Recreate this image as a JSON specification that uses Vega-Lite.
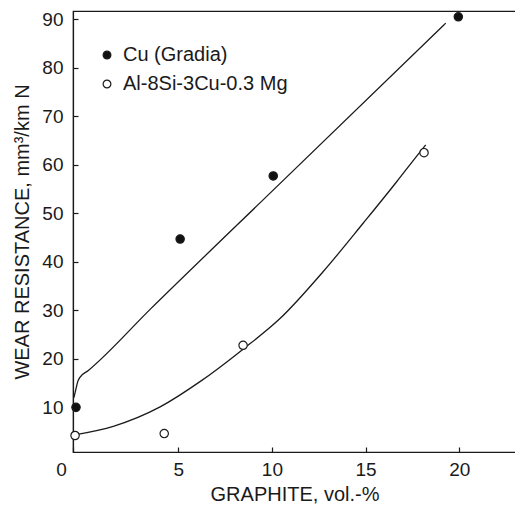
{
  "$schema": "https://vega.github.io/schema/vega-lite/v6.json",
  "autosize": "none",
  "padding": {"left": 73, "top": 11, "right": 0, "bottom": 53},
  "width": 443,
  "height": 441,
  "background": "white",
  "config": {
    "view": {"stroke": "#1a1a1a", "strokeWidth": 1.2},
    "font": "Liberation Sans",
    "axis": {
      "grid": false,
      "domainColor": "#1a1a1a",
      "domainWidth": 1.2,
      "tickColor": "#1a1a1a",
      "tickWidth": 1.2,
      "tickSize": -5,
      "labelFont": "Liberation Sans",
      "labelFontSize": 19,
      "labelColor": "#1a1a1a",
      "titleFont": "Liberation Sans",
      "titleFontSize": 20,
      "titleFontWeight": "normal",
      "titleColor": "#1a1a1a"
    },
    "legend": {
      "labelFont": "Liberation Sans",
      "labelFontSize": 20,
      "labelColor": "#1a1a1a",
      "labelLimit": 0
    }
  },
  "datasets": {
    "points": [
      {"graphite": -0.46, "wear": 10.0, "material": "Cu (Gradia)"},
      {"graphite": 5.1, "wear": 44.7, "material": "Cu (Gradia)"},
      {"graphite": 10.07, "wear": 57.7, "material": "Cu (Gradia)"},
      {"graphite": 19.95, "wear": 90.5, "material": "Cu (Gradia)"},
      {"graphite": -0.51, "wear": 4.2, "material": "Al-8Si-3Cu-0.3 Mg"},
      {"graphite": 4.25, "wear": 4.6, "material": "Al-8Si-3Cu-0.3 Mg"},
      {"graphite": 8.46, "wear": 22.8, "material": "Al-8Si-3Cu-0.3 Mg"},
      {"graphite": 18.12, "wear": 62.5, "material": "Al-8Si-3Cu-0.3 Mg"}
    ],
    "curves": [
      {"graphite": -0.57, "wear": 12.0, "curve": "Cu"},
      {"graphite": -0.45, "wear": 14.0, "curve": "Cu"},
      {"graphite": -0.39, "wear": 15.0, "curve": "Cu"},
      {"graphite": -0.25, "wear": 16.2, "curve": "Cu"},
      {"graphite": 0.2, "wear": 17.6, "curve": "Cu"},
      {"graphite": 3.55, "wear": 30.4, "curve": "Cu"},
      {"graphite": 10.26, "wear": 55.5, "curve": "Cu"},
      {"graphite": 19.28, "wear": 89.2, "curve": "Cu"},
      {"graphite": -0.45, "wear": 4.4, "curve": "Al"},
      {"graphite": 1.53, "wear": 6.1, "curve": "Al"},
      {"graphite": 4.03, "wear": 10.1, "curve": "Al"},
      {"graphite": 6.16, "wear": 15.3, "curve": "Al"},
      {"graphite": 8.46, "wear": 22.0, "curve": "Al"},
      {"graphite": 10.43, "wear": 28.3, "curve": "Al"},
      {"graphite": 12.74, "wear": 38.0, "curve": "Al"},
      {"graphite": 14.88, "wear": 48.0, "curve": "Al"},
      {"graphite": 16.66, "wear": 56.5, "curve": "Al"},
      {"graphite": 17.73, "wear": 61.8, "curve": "Al"},
      {"graphite": 18.21, "wear": 64.1, "curve": "Al"}
    ]
  },
  "layer": [
    {
      "data": {"name": "curves"},
      "mark": {"type": "line", "color": "#1a1a1a", "strokeWidth": 1.3, "interpolate": "monotone", "clip": true},
      "encoding": {
        "x": {
          "field": "graphite", "type": "quantitative",
          "scale": {"domain": [-0.62, 23.03], "nice": false, "zero": false},
          "axis": {
            "title": "GRAPHITE, vol.-%",
            "values": [-0.62, 5, 10, 15, 20],
            "labelExpr": "datum.value < 0 ? '0' : datum.label",
            "labelFlush": false,
            "labelOffset": {"condition": {"test": "datum.value < 0", "value": -12}, "value": 0},
            "labelPadding": 13,
            "titlePadding": 5
          }
        },
        "y": {
          "field": "wear", "type": "quantitative",
          "scale": {"domain": [0.8, 91.7], "nice": false, "zero": false},
          "axis": {
            "title": "WEAR RESISTANCE, mm³/km N",
            "values": [10, 20, 30, 40, 50, 60, 70, 80, 90],
            "labelPadding": 15,
            "titlePadding": 9
          }
        },
        "detail": {"field": "curve"}
      }
    },
    {
      "data": {"name": "points"},
      "mark": {"type": "point", "shape": "circle", "filled": true, "size": 70, "stroke": "#1a1a1a", "strokeWidth": 1.2, "opacity": 1},
      "encoding": {
        "x": {"field": "graphite", "type": "quantitative"},
        "y": {"field": "wear", "type": "quantitative"},
        "fill": {
          "field": "material", "type": "nominal",
          "scale": {"domain": ["Cu (Gradia)", "Al-8Si-3Cu-0.3 Mg"], "range": ["#111111", "#ffffff"]},
          "legend": {
            "title": null,
            "orient": "none",
            "legendX": 24,
            "legendY": 34,
            "padding": 0,
            "symbolType": "circle",
            "symbolSize": 60,
            "symbolStrokeColor": "#1a1a1a",
            "symbolStrokeWidth": 1.2,
            "symbolOpacity": 1,
            "labelOffset": 6,
            "labelLimit": 0,
            "rowPadding": 9
          }
        }
      }
    }
  ]
}
